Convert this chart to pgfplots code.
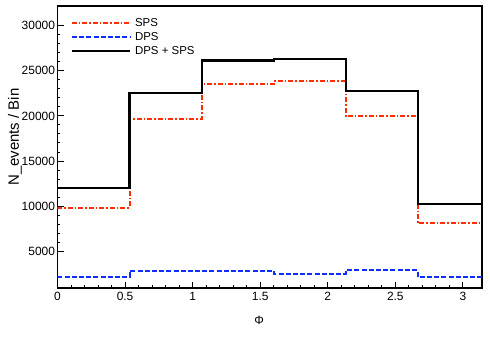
\documentclass[border=0pt]{standalone}
\usepackage{fontspec}
\setmainfont{Liberation Sans}
\usepackage{pgfplots}
\pgfplotsset{compat=1.18}
\definecolor{spsred}{RGB}{255,45,0}
\definecolor{dpsblue}{RGB}{15,45,255}

\begin{document}
\begin{tikzpicture}
\begin{axis}[
  name=ax,
  scale only axis, width=424.5bp, height=282bp,
  xmin=0, xmax=3.1416, ymin=900, ymax=32200,
  axis line style={line width=1.1pt},
  xtick={0,0.5,1,1.5,2,2.5,3}, minor x tick num=4,
  ytick={5000,10000,15000,20000,25000,30000}, minor y tick num=4,
  tick align=inside, xtick pos=bottom, ytick pos=left,
  major tick length=6bp, minor tick length=3bp,
  tick style={line width=0.9pt, black},
  scaled y ticks=false,
  /pgf/number format/1000 sep={},
  /pgf/number format/assume math mode=true,
  ticklabel style={font=\fontsize{12}{14}\selectfont},
  yticklabel style={xshift=1bp},
  xticklabel style={yshift=-1bp},
  xlabel={Φ}, ylabel={N\_events / Bin},
  xlabel style={font=\fontsize{12}{14}\selectfont,
    at={(axis description cs:0.475,-0.116)}, anchor=center},
  ylabel style={font=\fontsize{15}{17}\selectfont,
    at={(axis description cs:-0.1,0.535)}, anchor=center},
  legend cell align=left,
  legend style={draw=none, fill=none, at={(axis description cs:0.031,0.965)},
    anchor=north west, inner xsep=0pt, inner ysep=0pt, row sep=0.5bp,
    nodes={inner xsep=4bp},
    font=\fontsize{11.5}{13}\selectfont},
  legend image code/.code={\draw[#1] (0bp,0bp) -- (58bp,0bp);},
]
% SPS
\addplot[const plot, spsred, line width=1.9pt,
  dash pattern=on 5bp off 2bp on 1.5bp off 2bp] coordinates {
  (0,9805) (0.5333,19680) (1.0667,23497) (1.6,23830) (2.1333,19980)
  (2.6667,8074) (3.2,8074)
};
\addlegendentry{SPS}
% DPS
\addplot[const plot, dpsblue, line width=1.9pt,
  dash pattern=on 5bp off 2.2bp] coordinates {
  (0,2115) (0.5333,2814) (1.0667,2790) (1.6,2481) (2.1333,2858)
  (2.6667,2115) (3.2,2115)
};
\addlegendentry{DPS}
% DPS + SPS
\addplot[const plot, black, line width=2.2pt] coordinates {
  (0,12024) (0.5333,22565) (1.0667,26161) (1.6,26338) (2.1333,22754)
  (2.6667,10215) (3.2,10215)
};
\addlegendentry{DPS + SPS}
\end{axis}
\pgfresetboundingbox
\path[use as bounding box] ([shift={(-57.5bp,-58bp)}]ax.south west)
  rectangle ([shift={(8bp,6bp)}]ax.north east);
\end{tikzpicture}
\end{document}
